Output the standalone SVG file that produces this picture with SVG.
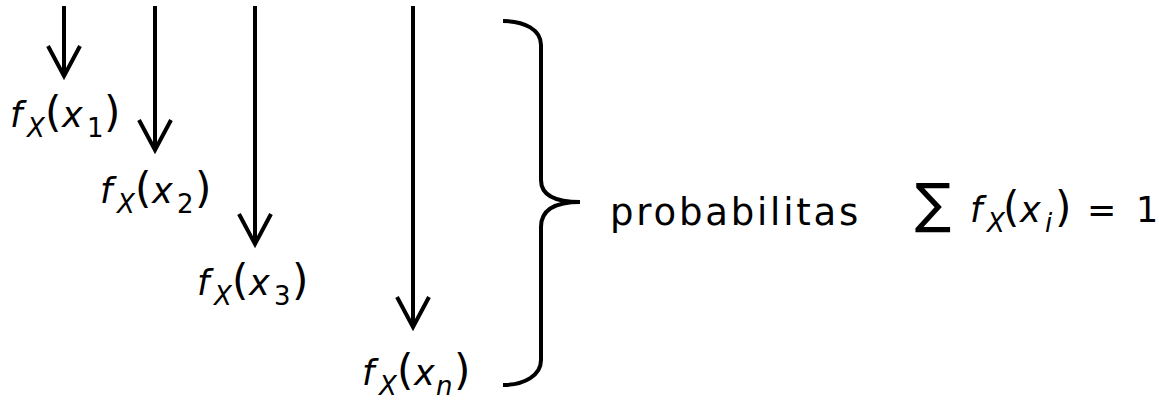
<svg xmlns="http://www.w3.org/2000/svg" width="1159" height="403" viewBox="0 0 1159 403">
<defs>
<style>
.t{font-family:"DejaVu Sans","Liberation Sans",sans-serif;fill:#000;font-size:35px}
.i{font-style:italic}
.p{font-size:42px}
.sx{font-size:26px;font-style:italic}
.sd{font-size:26px}
.ln{stroke:#000;stroke-width:4;fill:none}
</style>
<marker id="ah" markerUnits="userSpaceOnUse" markerWidth="40" markerHeight="40" refX="0" refY="0" orient="auto" overflow="visible">
<path d="M-30,-16 L0,0 L-30,16" fill="none" stroke="#000" stroke-width="4"/>
</marker>
</defs>
<rect width="1159" height="403" fill="#fff"/>
<g id="connectors">
<line class="ln" x1="64" y1="6" x2="64" y2="76" marker-end="url(#ah)"/>
<line class="ln" x1="155" y1="6" x2="155" y2="150" marker-end="url(#ah)"/>
<line class="ln" x1="255" y1="6" x2="255" y2="244" marker-end="url(#ah)"/>
<line class="ln" x1="413" y1="6" x2="413" y2="327" marker-end="url(#ah)"/>
</g>
<g id="label-x1">
<text class="t" y="127"><tspan class="i" x="10">f</tspan><tspan class="sx" x="27" y="137">X</tspan><tspan class="p" x="45" y="127">(</tspan><tspan class="i" x="62">x</tspan><tspan class="sd" x="87" y="137">1</tspan><tspan class="p" x="104" y="127">)</tspan></text>
</g>
<g id="label-x2">
<text class="t" y="203"><tspan class="i" x="100">f</tspan><tspan class="sx" x="117" y="213">X</tspan><tspan class="p" x="135" y="203">(</tspan><tspan class="i" x="152">x</tspan><tspan class="sd" x="177" y="213">2</tspan><tspan class="p" x="195" y="203">)</tspan></text>
</g>
<g id="label-x3">
<text class="t" y="295"><tspan class="i" x="197">f</tspan><tspan class="sx" x="214" y="305">X</tspan><tspan class="p" x="232" y="295">(</tspan><tspan class="i" x="249">x</tspan><tspan class="sd" x="274" y="305">3</tspan><tspan class="p" x="292" y="295">)</tspan></text>
</g>
<g id="label-xn">
<text class="t" y="385"><tspan class="i" x="362">f</tspan><tspan class="sx" x="379" y="395">X</tspan><tspan class="p" x="397" y="385">(</tspan><tspan class="i" x="414">x</tspan><tspan class="sx" x="436" y="395">n</tspan><tspan class="p" x="454" y="385">)</tspan></text>
</g>
<g id="brace">
<path class="ln" d="M503,21 C525,21 541,30 541,45 L541,180 C541,195 555,202 580,202 C555,202 541,210 541,227 L541,360 C541,375 525,385 503,385" stroke-width="3"/>
</g>
<g id="label-prob">
<text class="t" x="610" y="225" style="font-size:37px;letter-spacing:2.8px">probabilitas</text>
</g>
<g id="label-sum">
<text class="t" y="222"><tspan x="915" style="font-size:54px">∑</tspan><tspan class="i" x="970">f</tspan><tspan class="sx" x="987" y="232">X</tspan><tspan class="p" x="1003" y="222">(</tspan><tspan class="i" x="1020">x</tspan><tspan class="sx" x="1045" y="232">i</tspan><tspan class="p" x="1055" y="222">)</tspan><tspan x="1087">=</tspan><tspan x="1136">1</tspan></text>
</g>
</svg>
